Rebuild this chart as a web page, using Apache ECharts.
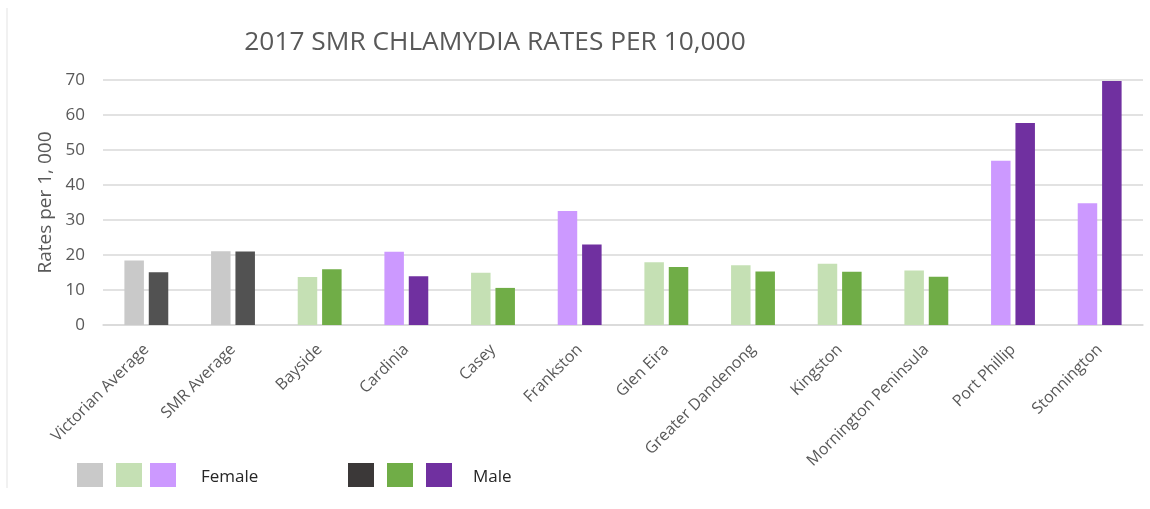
<!DOCTYPE html>
<html>
<head>
<meta charset="utf-8">
<script src="https://cdn.jsdelivr.net/npm/echarts@6/dist/echarts.min.js"></script>
<style>html,body{margin:0;padding:0;background:#fff}#chart{width:1150px;height:509px}</style>
</head>
<body>
<div id="chart"></div>
<script>
const categories = ['Victorian Average','SMR Average','Bayside','Cardinia','Casey','Frankston','Glen Eira','Greater Dandenong','Kingston','Mornington Peninsula','Port Phillip','Stonnington'];
const femaleValues = [18.4, 21.1, 13.7, 20.9, 14.9, 32.6, 17.9, 17.1, 17.5, 15.6, 46.9, 34.8];
const maleValues = [15.1, 21.0, 15.9, 13.9, 10.6, 23.0, 16.6, 15.3, 15.2, 13.8, 57.7, 69.7];
const yTicks = [0, 10, 20, 30, 40, 50, 60, 70];
// colour group per category: 0 = average (grey), 1 = green, 2 = purple
const colourGroup = [0, 0, 1, 2, 1, 2, 1, 1, 1, 1, 2, 2];
const femaleColours = ['#c9c9c9', '#c5e0b4', '#cc99ff'];
const maleColours = ['#525252', '#70ad47', '#7030a0'];
const legendFemaleColours = ['#c9c9c9', '#c5e0b4', '#cc99ff'];
const legendMaleColours = ['#3b3838', '#70ad47', '#7030a0'];

const textColor = '#595959';
const font = 'Open Sans';

const chart = echarts.init(document.getElementById('chart'));
const legendY = 463;
const sw = 26, sh = 24;
function swatch(x, color) {
  return { type: 'rect', x: x, y: legendY, shape: { width: sw, height: sh }, style: { fill: color } };
}
chart.setOption({
  animation: false,
  backgroundColor: '#fff',
  title: {
    text: '2017 SMR CHLAMYDIA RATES PER 10,000',
    left: 490, top: 25, textAlign: 'center',
    textStyle: { color: textColor, fontFamily: font, fontSize: 26.3, fontWeight: 'normal' }
  },
  grid: { left: 103, right: 7, top: 80, bottom: 184, containLabel: false },
  xAxis: {
    type: 'category',
    data: categories,
    axisLine: { lineStyle: { color: '#d9d9d9', width: 1.5 } },
    axisTick: { show: false },
    axisLabel: { rotate: 45, color: textColor, fontFamily: font, fontSize: 16, margin: 22, interval: 0 }
  },
  yAxis: {
    type: 'value', min: yTicks[0], max: yTicks[yTicks.length - 1], interval: 10,
    name: 'Rates per 1, 000', nameLocation: 'middle', nameGap: 46, nameRotate: 90,
    nameTextStyle: { color: textColor, fontFamily: font, fontSize: 19 },
    axisLine: { show: false }, axisTick: { show: false },
    axisLabel: { color: textColor, fontFamily: font, fontSize: 17, margin: 18 },
    splitLine: { lineStyle: { color: '#d9d9d9', width: 1.5 } }
  },
  series: [
    {
      name: 'Female', type: 'bar', barWidth: 19.5, barGap: '25%',
      data: femaleValues.map((v, i) => ({ value: v, itemStyle: { color: femaleColours[colourGroup[i]] } }))
    },
    {
      name: 'Male', type: 'bar', barWidth: 19.5, barGap: '25%',
      data: maleValues.map((v, i) => ({ value: v, itemStyle: { color: maleColours[colourGroup[i]] } }))
    }
  ],
  graphic: [
    { type: 'line', shape: { x1: 7, y1: 8, x2: 7, y2: 488 }, style: { stroke: '#e3e3e3', lineWidth: 1 } },
    swatch(77, legendFemaleColours[0]), swatch(116, legendFemaleColours[1]), swatch(150, legendFemaleColours[2]),
    { type: 'text', x: 201, y: 477, style: { text: 'Female', fill: '#262626', font: '17px "Open Sans"', verticalAlign: 'middle' } },
    swatch(348, legendMaleColours[0]), swatch(387, legendMaleColours[1]), swatch(426, legendMaleColours[2]),
    { type: 'text', x: 473, y: 477, style: { text: 'Male', fill: '#262626', font: '17px "Open Sans"', verticalAlign: 'middle' } }
  ]
});
</script>
</body>
</html>
